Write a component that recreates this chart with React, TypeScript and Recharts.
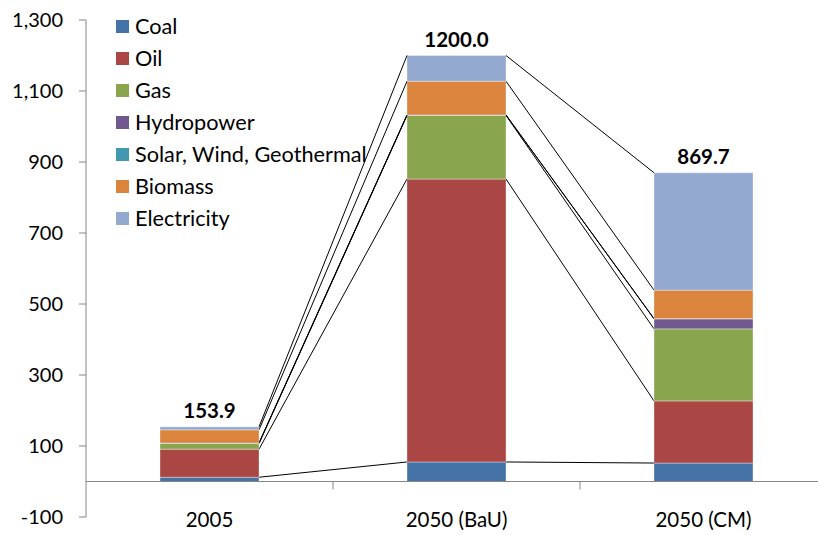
import { BarChart, Bar, XAxis, YAxis, LabelList, ReferenceLine } from 'recharts';

const categories = ['2005', '2050 (BaU)', '2050 (CM)'];
const coal = [12, 55, 52];
const oil = [79, 797, 175];
const gas = [16, 179, 203];
const hydropower = [1, 1, 28];
const solarWindGeo = [0.5, 0.5, 1];
const biomass = [37, 95, 80];
const electricity = [8.4, 72.5, 330.7];
const yTicks = [-100, 100, 300, 500, 700, 900, 1100, 1300];

const series = [
  { key: 'coal', name: 'Coal', values: coal, color: '#4572A7' },
  { key: 'oil', name: 'Oil', values: oil, color: '#AA4643' },
  { key: 'gas', name: 'Gas', values: gas, color: '#89A54E' },
  { key: 'hydro', name: 'Hydropower', values: hydropower, color: '#71588F' },
  { key: 'solar', name: 'Solar, Wind, Geothermal', values: solarWindGeo, color: '#4198AF' },
  { key: 'biomass', name: 'Biomass', values: biomass, color: '#DB843D' },
  { key: 'electricity', name: 'Electricity', values: electricity, color: '#93A9CF' },
];

const data = categories.map((cat, i) => {
  const row: Record<string, any> = { cat };
  let total = 0;
  series.forEach(s => {
    row[s.key] = s.values[i];
    total += s.values[i];
  });
  row.total = total;
  return row;
});

const FONT = 'Lato, "Open Sans", sans-serif';
const AXIS_GREY = '#868686';

// bar geometry per category, so each series can link its top to the previous bar
const geo: Record<number, Record<string, { x: number; y: number; w: number }>> = {};

function makeShape(key: string, fill: string) {
  return (props: any) => {
    const { x, y, width, height, index } = props;
    (geo[index] ||= {})[key] = { x, y, w: width };
    const prev = geo[index - 1]?.[key];
    return (
      <g>
        <rect x={x} y={y} width={width} height={Math.max(height, 0)} fill={fill} stroke="rgba(255,255,255,0.35)" strokeWidth={1} />
        {prev && <line x1={prev.x + prev.w} y1={prev.y} x2={x} y2={y} stroke="#000" strokeWidth={1} />}
      </g>
    );
  };
}

const TotalLabel = (props: any) => {
  const { x, y, width, value } = props;
  return (
    <text x={x + width / 2} y={y - 9} textAnchor="middle" fontFamily={FONT} fontSize={20.5} fontWeight={700} fill="#000">
      {Number(value).toFixed(1)}
    </text>
  );
};

const CatTick = (props: any) => {
  const { x, y, payload } = props;
  return (
    <text x={x} y={y + 10} textAnchor="middle" fontFamily={FONT} fontSize={20.5} fill="#000">
      {payload.value}
    </text>
  );
};

const LegendBox = () => (
  <div style={{ position: 'absolute', left: 116, top: 10, fontFamily: FONT, fontSize: 21.7, color: '#000', lineHeight: '32px' }}>
    {series.map(s => (
      <div key={s.key} style={{ display: 'flex', alignItems: 'center', height: 32 }}>
        <span style={{ width: 13, height: 13, background: s.color, marginRight: 6, display: 'inline-block' }} />
        <span>{s.name}</span>
      </div>
    ))}
  </div>
);

export default function App() {
  return (
    <div style={{ position: 'absolute', left: 0, top: 0, width: 818, height: 535, overflow: 'hidden', background: '#fff' }}>
      <BarChart width={840} height={535} data={data} margin={{ top: 20, right: 13, left: 0, bottom: 0 }} barSize={99}>
        <XAxis dataKey="cat" axisLine={false} tickLine={false} tickSize={0} tickMargin={0} height={18} tick={<CatTick />} interval={0} />
        <YAxis
          domain={[-100, 1300]}
          ticks={yTicks}
          width={86}
          tickSize={7}
          tickMargin={16}
          axisLine={{ stroke: AXIS_GREY }}
          tickLine={{ stroke: AXIS_GREY }}
          tick={{ fontFamily: FONT, fontSize: 20, fill: '#000' }}
          tickFormatter={(v: number) => v.toLocaleString('en-US')}
        />
        <ReferenceLine y={0} stroke={AXIS_GREY} />
        <ReferenceLine segment={[{ x: categories[1], y: 0 }, { x: categories[1], y: -22 }]} position="start" stroke={AXIS_GREY} />
        <ReferenceLine segment={[{ x: categories[2], y: 0 }, { x: categories[2], y: -22 }]} position="start" stroke={AXIS_GREY} />
        {series.map((s, i) => (
          <Bar key={s.key} dataKey={s.key} name={s.name} stackId="a" fill={s.color} shape={makeShape(s.key, s.color)} isAnimationActive={false}>
            {i === series.length - 1 && <LabelList dataKey="total" content={<TotalLabel />} />}
          </Bar>
        ))}
      </BarChart>
      <LegendBox />
    </div>
  );
}
